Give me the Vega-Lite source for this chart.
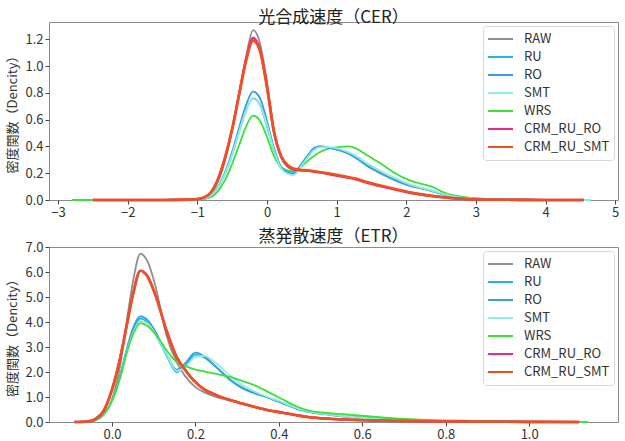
{
  "$schema": "https://vega.github.io/schema/vega-lite/v6.json",
  "padding": {"left": 6, "top": 8, "right": 2, "bottom": 0},
  "config": {
    "font": "Noto Sans CJK JP",
    "view": {"stroke": "#8c8c8c", "strokeWidth": 1},
    "axis": {"grid": false, "domain": false, "labelFont": "Noto Sans CJK JP", "labelFontSize": 13, "labelColor": "#333333", "tickColor": "#444444", "tickSize": 4, "labelPadding": 2, "titleFont": "Noto Sans CJK JP", "titleFontSize": 13, "titleFontWeight": "normal", "titleColor": "#333333", "titlePadding": 5},
    "title": {"font": "Noto Sans CJK JP", "fontSize": 17, "fontWeight": "normal", "color": "#222222", "offset": -5},
    "legend": {"orient": "none", "legendX": 434, "legendY": 4, "title": null, "symbolType": "stroke", "symbolSize": 625, "symbolStrokeWidth": 2, "labelFont": "Noto Sans CJK JP", "labelFontSize": 13, "labelColor": "#333333", "fillColor": "white", "strokeColor": "#d8d8d8", "padding": 4, "rowPadding": 0, "clipHeight": 17.8, "cornerRadius": 3, "labelOffset": 10},
    "concat": {"spacing": 7}
  },
  "datasets": {
    "cer": [
      {"x": -2.8, "RAW": null, "RU": null, "RO": null, "SMT": null, "WRS": 0, "CRM_RU_RO": null, "CRM_RU_SMT": null},
      {"x": -2.5, "RAW": 0, "RU": 0, "RO": 0, "SMT": 0, "WRS": 0, "CRM_RU_RO": 0, "CRM_RU_SMT": 0},
      {"x": -1.5, "RAW": 0.0005, "RU": 0.0005, "RO": 0.0005, "SMT": 0.0005, "WRS": 0.0003, "CRM_RU_RO": 0.0005, "CRM_RU_SMT": 0.0005},
      {"x": -1.1, "RAW": 0.003, "RU": 0.002, "RO": 0.002, "SMT": 0.002, "WRS": 0.001, "CRM_RU_RO": 0.003, "CRM_RU_SMT": 0.003},
      {"x": -1.0, "RAW": 0.006, "RU": 0.004, "RO": 0.004, "SMT": 0.004, "WRS": 0.002, "CRM_RU_RO": 0.007, "CRM_RU_SMT": 0.007},
      {"x": -0.9, "RAW": 0.016, "RU": 0.01, "RO": 0.01, "SMT": 0.01, "WRS": 0.006, "CRM_RU_RO": 0.02, "CRM_RU_SMT": 0.02},
      {"x": -0.8, "RAW": 0.05, "RU": 0.035, "RO": 0.035, "SMT": 0.035, "WRS": 0.022, "CRM_RU_RO": 0.06, "CRM_RU_SMT": 0.06},
      {"x": -0.7, "RAW": 0.14, "RU": 0.095, "RO": 0.1, "SMT": 0.095, "WRS": 0.068, "CRM_RU_RO": 0.16, "CRM_RU_SMT": 0.16},
      {"x": -0.6, "RAW": 0.3, "RU": 0.2, "RO": 0.21, "SMT": 0.2, "WRS": 0.15, "CRM_RU_RO": 0.32, "CRM_RU_SMT": 0.32},
      {"x": -0.5, "RAW": 0.52, "RU": 0.34, "RO": 0.36, "SMT": 0.34, "WRS": 0.27, "CRM_RU_RO": 0.53, "CRM_RU_SMT": 0.53},
      {"x": -0.4, "RAW": 0.8, "RU": 0.51, "RO": 0.54, "SMT": 0.51, "WRS": 0.41, "CRM_RU_RO": 0.79, "CRM_RU_SMT": 0.79},
      {"x": -0.3, "RAW": 1.07, "RU": 0.67, "RO": 0.71, "SMT": 0.67, "WRS": 0.55, "CRM_RU_RO": 1.05, "CRM_RU_SMT": 1.04},
      {"x": -0.2, "RAW": 1.27, "RU": 0.76, "RO": 0.81, "SMT": 0.755, "WRS": 0.63, "CRM_RU_RO": 1.21, "CRM_RU_SMT": 1.19},
      {"x": -0.1, "RAW": 1.17, "RU": 0.71, "RO": 0.76, "SMT": 0.71, "WRS": 0.59, "CRM_RU_RO": 1.12, "CRM_RU_SMT": 1.11},
      {"x": 0.0, "RAW": 0.88, "RU": 0.55, "RO": 0.59, "SMT": 0.56, "WRS": 0.47, "CRM_RU_RO": 0.85, "CRM_RU_SMT": 0.84},
      {"x": 0.1, "RAW": 0.52, "RU": 0.37, "RO": 0.39, "SMT": 0.37, "WRS": 0.33, "CRM_RU_RO": 0.51, "CRM_RU_SMT": 0.51},
      {"x": 0.2, "RAW": 0.32, "RU": 0.24, "RO": 0.25, "SMT": 0.24, "WRS": 0.245, "CRM_RU_RO": 0.33, "CRM_RU_SMT": 0.33},
      {"x": 0.3, "RAW": 0.245, "RU": 0.2, "RO": 0.21, "SMT": 0.195, "WRS": 0.22, "CRM_RU_RO": 0.255, "CRM_RU_SMT": 0.26},
      {"x": 0.38, "RAW": 0.225, "RU": 0.19, "RO": 0.2, "SMT": 0.185, "WRS": 0.215, "CRM_RU_RO": 0.23, "CRM_RU_SMT": 0.235},
      {"x": 0.48, "RAW": 0.22, "RU": 0.25, "RO": 0.26, "SMT": 0.245, "WRS": 0.245, "CRM_RU_RO": 0.222, "CRM_RU_SMT": 0.226},
      {"x": 0.58, "RAW": 0.218, "RU": 0.32, "RO": 0.33, "SMT": 0.315, "WRS": 0.29, "CRM_RU_RO": 0.22, "CRM_RU_SMT": 0.222},
      {"x": 0.68, "RAW": 0.212, "RU": 0.385, "RO": 0.39, "SMT": 0.375, "WRS": 0.33, "CRM_RU_RO": 0.212, "CRM_RU_SMT": 0.215},
      {"x": 0.77, "RAW": 0.205, "RU": 0.4, "RO": 0.4, "SMT": 0.395, "WRS": 0.36, "CRM_RU_RO": 0.205, "CRM_RU_SMT": 0.208},
      {"x": 0.9, "RAW": 0.195, "RU": 0.39, "RO": 0.39, "SMT": 0.395, "WRS": 0.385, "CRM_RU_RO": 0.193, "CRM_RU_SMT": 0.197},
      {"x": 1.05, "RAW": 0.18, "RU": 0.37, "RO": 0.37, "SMT": 0.38, "WRS": 0.397, "CRM_RU_RO": 0.178, "CRM_RU_SMT": 0.183},
      {"x": 1.16, "RAW": 0.17, "RU": 0.35, "RO": 0.35, "SMT": 0.36, "WRS": 0.4, "CRM_RU_RO": 0.168, "CRM_RU_SMT": 0.172},
      {"x": 1.26, "RAW": 0.16, "RU": 0.32, "RO": 0.32, "SMT": 0.335, "WRS": 0.39, "CRM_RU_RO": 0.157, "CRM_RU_SMT": 0.162},
      {"x": 1.45, "RAW": 0.13, "RU": 0.255, "RO": 0.25, "SMT": 0.27, "WRS": 0.33, "CRM_RU_RO": 0.127, "CRM_RU_SMT": 0.132},
      {"x": 1.64, "RAW": 0.105, "RU": 0.2, "RO": 0.196, "SMT": 0.215, "WRS": 0.27, "CRM_RU_RO": 0.102, "CRM_RU_SMT": 0.106},
      {"x": 1.84, "RAW": 0.08, "RU": 0.15, "RO": 0.147, "SMT": 0.165, "WRS": 0.2, "CRM_RU_RO": 0.078, "CRM_RU_SMT": 0.082},
      {"x": 2.03, "RAW": 0.058, "RU": 0.113, "RO": 0.11, "SMT": 0.12, "WRS": 0.15, "CRM_RU_RO": 0.057, "CRM_RU_SMT": 0.06},
      {"x": 2.22, "RAW": 0.04, "RU": 0.088, "RO": 0.085, "SMT": 0.09, "WRS": 0.12, "CRM_RU_RO": 0.04, "CRM_RU_SMT": 0.042},
      {"x": 2.37, "RAW": 0.03, "RU": 0.07, "RO": 0.065, "SMT": 0.07, "WRS": 0.1, "CRM_RU_RO": 0.03, "CRM_RU_SMT": 0.031},
      {"x": 2.5, "RAW": 0.022, "RU": 0.048, "RO": 0.045, "SMT": 0.05, "WRS": 0.065, "CRM_RU_RO": 0.022, "CRM_RU_SMT": 0.023},
      {"x": 2.65, "RAW": 0.014, "RU": 0.026, "RO": 0.025, "SMT": 0.028, "WRS": 0.038, "CRM_RU_RO": 0.014, "CRM_RU_SMT": 0.015},
      {"x": 2.8, "RAW": 0.009, "RU": 0.016, "RO": 0.015, "SMT": 0.017, "WRS": 0.025, "CRM_RU_RO": 0.009, "CRM_RU_SMT": 0.009},
      {"x": 3.0, "RAW": 0.004, "RU": 0.008, "RO": 0.008, "SMT": 0.009, "WRS": 0.013, "CRM_RU_RO": 0.004, "CRM_RU_SMT": 0.004},
      {"x": 3.3, "RAW": 0.002, "RU": 0.004, "RO": 0.004, "SMT": 0.004, "WRS": 0.006, "CRM_RU_RO": 0.002, "CRM_RU_SMT": 0.002},
      {"x": 3.6, "RAW": 0.001, "RU": 0.002, "RO": 0.002, "SMT": 0.002, "WRS": 0.003, "CRM_RU_RO": 0.001, "CRM_RU_SMT": 0.001},
      {"x": 4.0, "RAW": 0, "RU": 0.001, "RO": 0.001, "SMT": 0.001, "WRS": 0.001, "CRM_RU_RO": 0, "CRM_RU_SMT": 0},
      {"x": 4.55, "RAW": 0, "RU": 0, "RO": 0, "SMT": 0, "WRS": 0, "CRM_RU_RO": 0, "CRM_RU_SMT": 0},
      {"x": 4.65, "RAW": null, "RU": 0, "RO": 0, "SMT": 0, "WRS": null, "CRM_RU_RO": null, "CRM_RU_SMT": null}
    ],
    "etr": [
      {"x": -0.09, "RAW": 0, "RU": 0, "RO": 0, "SMT": 0, "WRS": 0, "CRM_RU_RO": 0, "CRM_RU_SMT": 0},
      {"x": -0.06, "RAW": 0.01, "RU": 0.02, "RO": 0.02, "SMT": 0.02, "WRS": 0.02, "CRM_RU_RO": 0.02, "CRM_RU_SMT": 0.02},
      {"x": -0.04, "RAW": 0.06, "RU": 0.08, "RO": 0.08, "SMT": 0.08, "WRS": 0.08, "CRM_RU_RO": 0.12, "CRM_RU_SMT": 0.12},
      {"x": -0.02, "RAW": 0.28, "RU": 0.3, "RO": 0.3, "SMT": 0.3, "WRS": 0.3, "CRM_RU_RO": 0.45, "CRM_RU_SMT": 0.45},
      {"x": 0.0, "RAW": 0.9, "RU": 0.85, "RO": 0.85, "SMT": 0.85, "WRS": 0.85, "CRM_RU_RO": 1.3, "CRM_RU_SMT": 1.3},
      {"x": 0.02, "RAW": 2.3, "RU": 1.85, "RO": 1.9, "SMT": 1.8, "WRS": 1.8, "CRM_RU_RO": 2.6, "CRM_RU_SMT": 2.6},
      {"x": 0.035, "RAW": 4.0, "RU": 2.85, "RO": 2.9, "SMT": 2.8, "WRS": 2.75, "CRM_RU_RO": 3.85, "CRM_RU_SMT": 3.85},
      {"x": 0.05, "RAW": 5.6, "RU": 3.65, "RO": 3.75, "SMT": 3.55, "WRS": 3.5, "CRM_RU_RO": 5.1, "CRM_RU_SMT": 5.1},
      {"x": 0.068, "RAW": 6.75, "RU": 4.15, "RO": 4.24, "SMT": 4.05, "WRS": 3.97, "CRM_RU_RO": 6.07, "CRM_RU_SMT": 6.07},
      {"x": 0.085, "RAW": 6.45, "RU": 4.0, "RO": 4.1, "SMT": 3.95, "WRS": 3.85, "CRM_RU_RO": 5.85, "CRM_RU_SMT": 5.85},
      {"x": 0.105, "RAW": 5.4, "RU": 3.5, "RO": 3.6, "SMT": 3.5, "WRS": 3.5, "CRM_RU_RO": 5.05, "CRM_RU_SMT": 5.05},
      {"x": 0.13, "RAW": 3.5, "RU": 2.7, "RO": 2.75, "SMT": 2.75, "WRS": 2.9, "CRM_RU_RO": 3.7, "CRM_RU_SMT": 3.7},
      {"x": 0.155, "RAW": 2.4, "RU": 2.0, "RO": 2.1, "SMT": 2.05, "WRS": 2.4, "CRM_RU_RO": 2.6, "CRM_RU_SMT": 2.6},
      {"x": 0.175, "RAW": 1.85, "RU": 2.25, "RO": 2.35, "SMT": 2.2, "WRS": 2.25, "CRM_RU_RO": 2.1, "CRM_RU_SMT": 2.1},
      {"x": 0.2, "RAW": 1.4, "RU": 2.7, "RO": 2.78, "SMT": 2.6, "WRS": 2.1, "CRM_RU_RO": 1.6, "CRM_RU_SMT": 1.6},
      {"x": 0.22, "RAW": 1.2, "RU": 2.6, "RO": 2.65, "SMT": 2.65, "WRS": 2.03, "CRM_RU_RO": 1.32, "CRM_RU_SMT": 1.32},
      {"x": 0.25, "RAW": 1.0, "RU": 2.2, "RO": 2.2, "SMT": 2.35, "WRS": 1.93, "CRM_RU_RO": 1.08, "CRM_RU_SMT": 1.08},
      {"x": 0.28, "RAW": 0.87, "RU": 1.75, "RO": 1.72, "SMT": 1.9, "WRS": 1.82, "CRM_RU_RO": 0.9, "CRM_RU_SMT": 0.9},
      {"x": 0.31, "RAW": 0.75, "RU": 1.4, "RO": 1.38, "SMT": 1.5, "WRS": 1.66, "CRM_RU_RO": 0.75, "CRM_RU_SMT": 0.75},
      {"x": 0.345, "RAW": 0.59, "RU": 1.15, "RO": 1.13, "SMT": 1.2, "WRS": 1.45, "CRM_RU_RO": 0.59, "CRM_RU_SMT": 0.59},
      {"x": 0.375, "RAW": 0.47, "RU": 0.98, "RO": 0.97, "SMT": 1.0, "WRS": 1.2, "CRM_RU_RO": 0.47, "CRM_RU_SMT": 0.47},
      {"x": 0.41, "RAW": 0.37, "RU": 0.76, "RO": 0.74, "SMT": 0.78, "WRS": 0.9, "CRM_RU_RO": 0.37, "CRM_RU_SMT": 0.37},
      {"x": 0.44, "RAW": 0.28, "RU": 0.56, "RO": 0.55, "SMT": 0.58, "WRS": 0.64, "CRM_RU_RO": 0.28, "CRM_RU_SMT": 0.28},
      {"x": 0.47, "RAW": 0.2, "RU": 0.42, "RO": 0.41, "SMT": 0.43, "WRS": 0.47, "CRM_RU_RO": 0.2, "CRM_RU_SMT": 0.2},
      {"x": 0.52, "RAW": 0.13, "RU": 0.3, "RO": 0.29, "SMT": 0.3, "WRS": 0.36, "CRM_RU_RO": 0.13, "CRM_RU_SMT": 0.13},
      {"x": 0.57, "RAW": 0.09, "RU": 0.21, "RO": 0.2, "SMT": 0.21, "WRS": 0.29, "CRM_RU_RO": 0.09, "CRM_RU_SMT": 0.09},
      {"x": 0.62, "RAW": 0.065, "RU": 0.14, "RO": 0.14, "SMT": 0.14, "WRS": 0.22, "CRM_RU_RO": 0.065, "CRM_RU_SMT": 0.065},
      {"x": 0.7, "RAW": 0.04, "RU": 0.075, "RO": 0.07, "SMT": 0.075, "WRS": 0.12, "CRM_RU_RO": 0.04, "CRM_RU_SMT": 0.04},
      {"x": 0.8, "RAW": 0.02, "RU": 0.035, "RO": 0.035, "SMT": 0.035, "WRS": 0.06, "CRM_RU_RO": 0.02, "CRM_RU_SMT": 0.02},
      {"x": 0.9, "RAW": 0.01, "RU": 0.018, "RO": 0.018, "SMT": 0.018, "WRS": 0.03, "CRM_RU_RO": 0.01, "CRM_RU_SMT": 0.01},
      {"x": 1.0, "RAW": 0.005, "RU": 0.008, "RO": 0.008, "SMT": 0.008, "WRS": 0.015, "CRM_RU_RO": 0.005, "CRM_RU_SMT": 0.005},
      {"x": 1.12, "RAW": 0, "RU": 0.002, "RO": 0.002, "SMT": 0.002, "WRS": 0.004, "CRM_RU_RO": 0, "CRM_RU_SMT": 0},
      {"x": 1.14, "RAW": null, "RU": 0, "RO": 0, "SMT": 0, "WRS": 0, "CRM_RU_RO": null, "CRM_RU_SMT": null}
    ]
  },
  "vconcat": [
    {
      "title": "光合成速度（CER）",
      "width": 569,
      "height": 178,
      "data": {"name": "cer"},
      "transform": [
        {"fold": ["RAW", "RU", "RO", "SMT", "WRS", "CRM_RU_RO", "CRM_RU_SMT"], "as": ["series", "density"]},
        {"filter": "datum.density != null"}
      ],
      "mark": {"type": "line", "interpolate": "monotone"},
      "encoding": {
        "x": {"field": "x", "type": "quantitative", "scale": {"domain": [-3.13, 5.04], "nice": false, "zero": false}, "axis": {"title": null, "values": [-3, -2, -1, 0, 1, 2, 3, 4, 5], "format": "d"}},
        "y": {"field": "density", "type": "quantitative", "scale": {"domain": [0, 1.33], "nice": false}, "axis": {"title": "密度関数（Dencity）", "values": [0, 0.2, 0.4, 0.6, 0.8, 1.0, 1.2], "format": ".1f"}},
        "color": {"field": "series", "type": "nominal", "sort": null, "scale": {"domain": ["RAW", "RU", "RO", "SMT", "WRS", "CRM_RU_RO", "CRM_RU_SMT"], "range": ["#8f8f8f", "#22b5dd", "#3d9be0", "#8ef0dc", "#3be03b", "#e8288a", "#f0501e"]}, "legend": {"legendY": 4}},
        "strokeWidth": {"condition": {"test": "datum.series === 'CRM_RU_RO' || datum.series === 'CRM_RU_SMT'", "value": 2.6}, "value": 1.8}
      }
    },
    {
      "title": "蒸発散速度（ETR）",
      "width": 569,
      "height": 175,
      "data": {"name": "etr"},
      "transform": [
        {"fold": ["RAW", "RU", "RO", "SMT", "WRS", "CRM_RU_RO", "CRM_RU_SMT"], "as": ["series", "density"]},
        {"filter": "datum.density != null"}
      ],
      "mark": {"type": "line", "interpolate": "monotone"},
      "encoding": {
        "x": {"field": "x", "type": "quantitative", "scale": {"domain": [-0.151, 1.213], "nice": false, "zero": false}, "axis": {"title": null, "values": [0, 0.2, 0.4, 0.6, 0.8, 1.0], "format": ".1f"}},
        "y": {"field": "density", "type": "quantitative", "scale": {"domain": [0, 7.02], "nice": false}, "axis": {"title": "密度関数（Dencity）", "values": [0, 1, 2, 3, 4, 5, 6, 7], "format": ".1f"}},
        "color": {"field": "series", "type": "nominal", "sort": null, "scale": {"domain": ["RAW", "RU", "RO", "SMT", "WRS", "CRM_RU_RO", "CRM_RU_SMT"], "range": ["#8f8f8f", "#22b5dd", "#3d9be0", "#8ef0dc", "#3be03b", "#e8288a", "#f0501e"]}, "legend": {"legendY": 4}},
        "strokeWidth": {"condition": {"test": "datum.series === 'CRM_RU_RO' || datum.series === 'CRM_RU_SMT'", "value": 2.6}, "value": 1.8}
      }
    }
  ],
  "resolve": {"legend": {"color": "independent"}}
}
